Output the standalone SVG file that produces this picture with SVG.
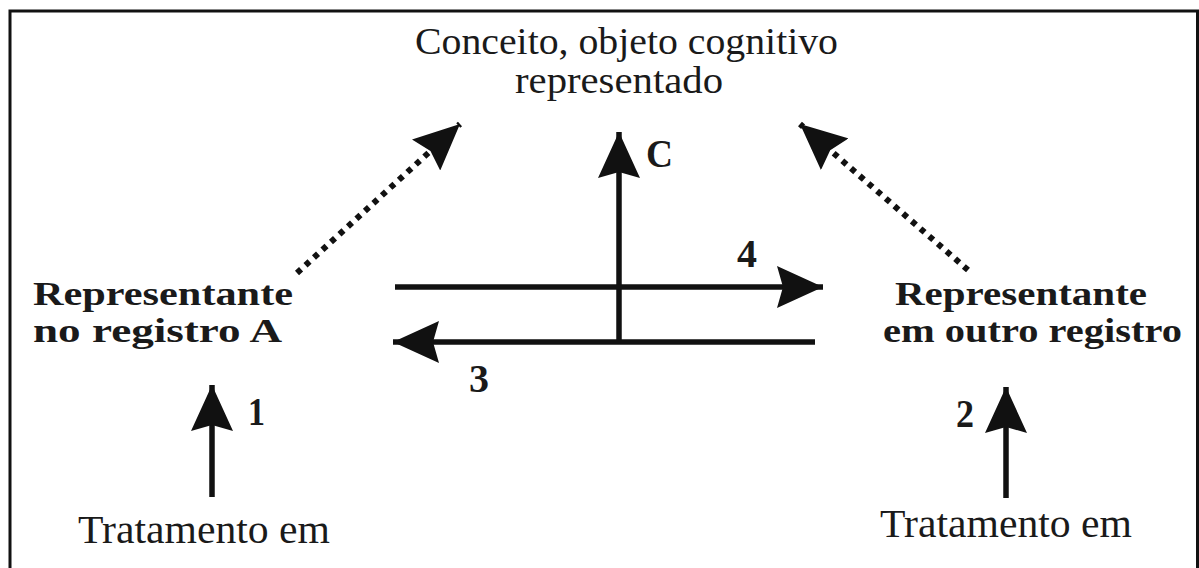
<svg xmlns="http://www.w3.org/2000/svg" width="1199" height="568" viewBox="0 0 1199 568">
<style>
.t{font-family:"Liberation Serif","Times New Roman",Tinos,serif;fill:#1a1a1a}
.r{font-size:37px}
.tr{font-size:41px}
.b{font-size:34px;font-weight:bold}
.n{font-size:40px;font-weight:bold}
.ln{stroke:#111;stroke-width:5.5;fill:none}
.dot{stroke:#111;stroke-width:6;fill:none;stroke-dasharray:5.5 6}
</style>
<defs>
<marker id="ah" viewBox="0 0 46 42" refX="46" refY="21" markerWidth="46" markerHeight="42" markerUnits="userSpaceOnUse" orient="auto">
<path d="M46,21 L0,0 L6,21 L0,42 Z" fill="#111"/>
</marker>
</defs>
<rect width="1199" height="568" fill="#fff"/>
<rect x="10" y="11" width="1187.5" height="600" fill="none" stroke="#111" stroke-width="3"/>
<g id="concept">
<text class="t r" x="415" y="54" textLength="423" lengthAdjust="spacingAndGlyphs">Conceito, objeto cognitivo</text>
<text class="t r" x="515" y="93" textLength="208" lengthAdjust="spacingAndGlyphs">representado</text>
</g>
<g id="regA">
<text class="t b" x="33" y="305" textLength="260" lengthAdjust="spacingAndGlyphs">Representante</text>
<text class="t b" x="33" y="342" textLength="249" lengthAdjust="spacingAndGlyphs">no registro A</text>
</g>
<g id="regB">
<text class="t b" x="895" y="305" textLength="252" lengthAdjust="spacingAndGlyphs">Representante</text>
<text class="t b" x="883" y="342" textLength="299" lengthAdjust="spacingAndGlyphs">em outro registro</text>
</g>
<g id="tratA">
<text class="t tr" x="78" y="543" textLength="252" lengthAdjust="spacingAndGlyphs">Tratamento em</text>
</g>
<g id="tratB">
<text class="t tr" x="880" y="537" textLength="252" lengthAdjust="spacingAndGlyphs">Tratamento em</text>
</g>
<g id="connectors">
<line class="dot" x1="297" y1="273" x2="460" y2="124" marker-end="url(#ah)"/>
<line class="dot" x1="968" y1="270" x2="800" y2="124" marker-end="url(#ah)"/>
<line class="ln" x1="619" y1="342" x2="619" y2="132" marker-end="url(#ah)"/>
<line class="ln" x1="395" y1="287" x2="823" y2="287" marker-end="url(#ah)"/>
<line class="ln" x1="815" y1="342" x2="393" y2="342" marker-end="url(#ah)"/>
<line class="ln" x1="212" y1="497" x2="212" y2="385" marker-end="url(#ah)"/>
<line class="ln" x1="1006" y1="498" x2="1006" y2="387" marker-end="url(#ah)"/>
<text class="t n" x="646" y="167" textLength="27" lengthAdjust="spacingAndGlyphs">C</text>
<text class="t n" x="737" y="267" textLength="20" lengthAdjust="spacingAndGlyphs">4</text>
<text class="t n" x="469" y="392" textLength="20" lengthAdjust="spacingAndGlyphs">3</text>
<text class="t n" x="248" y="425" textLength="17" lengthAdjust="spacingAndGlyphs">1</text>
<text class="t n" x="956" y="427" textLength="18" lengthAdjust="spacingAndGlyphs">2</text>
</g>
</svg>
